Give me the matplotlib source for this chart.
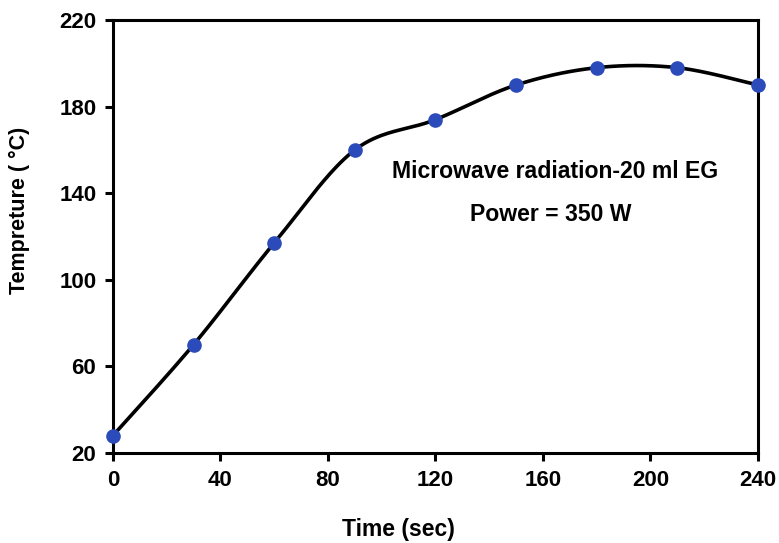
import numpy as np
import matplotlib

matplotlib.use("Agg")
import matplotlib.pyplot as plt

time_sec = [0, 30, 60, 90, 120, 150, 180, 210, 240]
temperature = [28, 70, 117, 160, 174, 190, 198, 198, 190]
x_ticks = [0, 40, 80, 120, 160, 200, 240]
y_ticks = [20, 60, 100, 140, 180, 220]


def smooth_curve(xs, ys, n=40):
    """Catmull-Rom style Bezier smoothing, like a spreadsheet 'smoothed line'."""
    p = np.column_stack([xs, ys]).astype(float)
    scale = np.array([xs[-1] - xs[0], 200.0 * 0.67])
    q = p / scale
    out = []
    for i in range(len(q) - 1):
        p0 = q[i - 1] if i > 0 else q[i]
        p1, p2 = q[i], q[i + 1]
        p3 = q[i + 2] if i + 2 < len(q) else q[i + 1]
        c1 = p1 + (p2 - p0) / 6.0
        c2 = p2 - (p3 - p1) / 6.0
        t = np.linspace(0, 1, n)[:, None]
        seg = ((1 - t) ** 3) * p1 + 3 * ((1 - t) ** 2) * t * c1 + 3 * (1 - t) * t ** 2 * c2 + t ** 3 * p2
        out.append(seg)
    pts = np.vstack(out) * scale
    return pts[:, 0], pts[:, 1]


plt.rcParams["font.family"] = ["Liberation Sans", "DejaVu Sans"]
plt.rcParams["font.weight"] = "bold"

fig = plt.figure(figsize=(7.79, 5.43), dpi=100)
ax = fig.add_axes([0.145, 0.166, 0.828, 0.797])

sx, sy = smooth_curve(time_sec, temperature)
ax.plot(sx, sy, color="black", lw=2.6, zorder=2, clip_on=False)
ax.plot(time_sec, temperature, "o", color="#2B4BBA", ms=9.5, zorder=3, clip_on=False)

ax.set_xlim(0, 240)
ax.set_ylim(20, 220)
ax.set_xticks(x_ticks)
ax.set_yticks(y_ticks)
ax.tick_params(direction="out", length=6, width=2.2, labelsize=16, pad=6)
for s in ax.spines.values():
    s.set_linewidth(2.2)

ax.set_xlabel("Time (sec)", fontsize=16.5, fontweight="bold")
ax.set_ylabel("Tempreture ( °C)", fontsize=15.5, fontweight="bold")
# the labels sit off-centre in the original
ax.xaxis.set_label_coords(0.442, -0.150)
ax.yaxis.set_label_coords(-0.129, 0.561)

ax.text(0.685, 0.651, "Microwave radiation-20 ml EG", transform=ax.transAxes,
        ha="center", va="center", fontsize=16.6, fontweight="bold")
ax.text(0.678, 0.55, "Power = 350 W", transform=ax.transAxes,
        ha="center", va="center", fontsize=16.6, fontweight="bold")

fig.savefig("out.png", dpi=100)
plt.close(fig)
